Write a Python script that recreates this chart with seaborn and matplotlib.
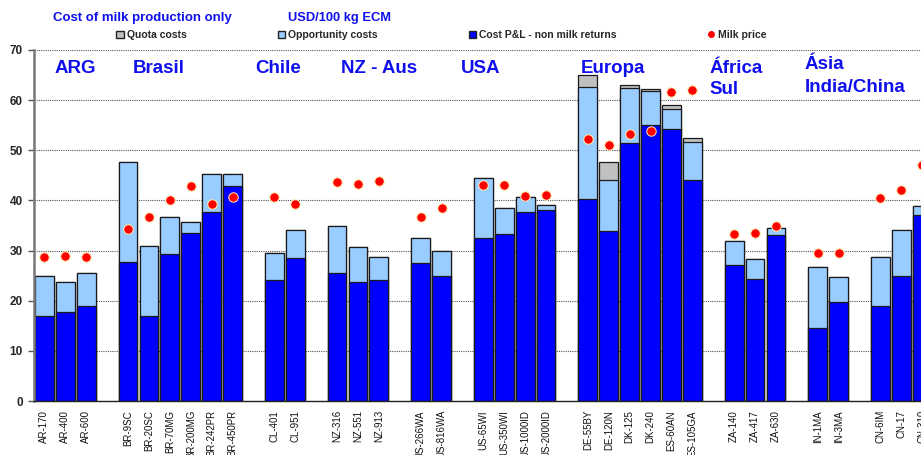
import numpy as np
import pandas as pd
import matplotlib
matplotlib.use("Agg")
import matplotlib.pyplot as plt
import seaborn as sns
from matplotlib.patches import Patch
from matplotlib.lines import Line2D

# Cost of milk production per farm (USD/100 kg ECM)
farms = ['AR-170', 'AR-400', 'AR-600',
         'BR-9SC', 'BR-20SC', 'BR-70MG', 'BR-200MG', 'BR-242PR', 'BR-450PR',
         'CL-401', 'CL-951',
         'NZ-316', 'NZ-551', 'NZ-913',
         'US-266WA', 'US-816WA',
         'US-65WI', 'US-350WI', 'US-1000ID', 'US-2000ID',
         'DE-55BY', 'DE-120N', 'DK-125', 'DK-240', 'ES-60AN', 'ES-105GA',
         'ZA-140', 'ZA-417', 'ZA-630',
         'IN-1MA', 'IN-3MA',
         'CN-6IM', 'CN-17', 'CN-310']
cost_pl = [17.0, 17.7, 18.9,
           27.8, 17.0, 29.4, 33.6, 37.7, 42.9,
           24.2, 28.6,
           25.6, 23.7, 24.1,
           27.5, 24.9,
           32.5, 33.3, 37.7, 38.1,
           40.2, 33.9, 51.5, 55.0, 54.2, 44.1,
           27.2, 24.4, 33.2,
           14.6, 19.7,
           19.0, 25.0, 37.1]
opportunity = [7.9, 6.0, 6.6,
               19.9, 14.0, 7.3, 2.1, 7.6, 2.4,
               5.3, 5.6,
               9.3, 7.1, 4.6,
               5.1, 5.1,
               12.0, 5.2, 3.0, 0.9,
               22.5, 10.1, 11.0, 6.9, 4.0, 7.6,
               4.7, 3.9, 1.4,
               12.1, 5.0,
               9.7, 9.1, 1.8]
quota = [0, 0, 0,
         0, 0, 0, 0, 0, 0,
         0, 0,
         0, 0, 0,
         0, 0,
         0, 0, 0, 0,
         2.3, 3.7, 0.6, 0.4, 0.9, 0.8,
         0, 0, 0,
         0, 0,
         0, 0, 0]
milk_price = [28.7, 29.0, 28.8,
              34.3, 36.6, 40.0, 42.9, 39.3, 40.7,
              40.7, 39.3,
              43.7, 43.3, 43.9,
              36.7, 38.5,
              43.1, 43.1, 40.9, 41.1,
              52.2, 51.0, 53.3, 53.9, 61.7, 62.0,
              33.3, 33.5, 35.0,
              29.5, 29.5,
              40.4, 42.1, 47.0]

# an empty slot follows the last farm of each group
gap_after = ['AR-600', 'BR-450PR', 'CL-951', 'NZ-913', 'US-816WA',
             'US-2000ID', 'ES-105GA', 'ZA-630', 'IN-3MA']

# region names: (text, x in slots, baseline y)
regions = [('ARG', 0.46, 65.4), ('Brasil', 4.24, 65.4), ('Chile', 10.07, 65.4),
           ('NZ - Aus', 14.19, 65.4), ('USA', 19.93, 65.4), ('Europa', 25.67, 65.4),
           ('África', 31.80, 65.4), ('Sul', 31.80, 61.2),
           ('Ásia', 36.39, 66.2), ('India/China', 36.39, 61.6)]

order = []
for f in farms:
    order.append(f)
    if f in gap_after:
        order.append(f'_gap{len(order)}')

df = pd.DataFrame({'Farm': farms, 'PL': cost_pl, 'Opp': opportunity,
                   'Quota': quota, 'Milk': milk_price})
df['PL_Opp'] = df['PL'] + df['Opp']
df['Total'] = df['PL_Opp'] + df['Quota']

sns.set_style('white')
plt.rcParams['font.family'] = ['Liberation Sans', 'DejaVu Sans']

W, H = 921, 455
fig = plt.figure(figsize=(W / 100, H / 100), dpi=100)
slot = 20.9
ax = fig.add_axes([34 / W, 54 / H, len(order) * slot / W, 351 / H])

blue = '#0000ff'
light = '#99ccff'
grey = '#c0c0c0'
for col, c in [('Total', grey), ('PL_Opp', light), ('PL', blue)]:
    sns.barplot(data=df, x='Farm', y=col, order=order, color=c, saturation=1,
                width=0.9, edgecolor='#1a1a1a', linewidth=0.9, ax=ax)

sns.stripplot(data=df, x='Farm', y='Milk', order=order, color='#ff0000',
              size=6.8, jitter=False, edgecolor='#fff0b0', linewidth=0.7,
              ax=ax, zorder=5)

ax.set_xlim(-0.5, len(order) - 0.5)
ax.set_ylim(0, 70)
ax.set_yticks(range(0, 71, 10))
ax.set_yticklabels([str(v) for v in range(0, 71, 10)], fontsize=8.5, fontweight='bold')
ax.yaxis.grid(True, linestyle=(0, (1, 1)), color='#555555', linewidth=0.8)
ax.set_axisbelow(True)

labels = ['' if o.startswith('_gap') else o for o in order]
ax.set_xticks(range(len(order)))
ax.set_xticklabels(labels, rotation=90, fontsize=7, color='#111111')
ax.set_xticks(np.arange(-0.5, len(order)), minor=True)
ax.tick_params(axis='x', which='major', length=0, pad=6.5)
ax.tick_params(axis='x', which='minor', length=4, color='#333333', width=0.8)
ax.tick_params(axis='y', length=4, color='#555555', width=1, pad=4, left=True)
ax.set_xlabel('')
ax.set_ylabel('')

for s in ['top', 'right']:
    ax.spines[s].set_visible(False)
ax.spines['left'].set_color('#777777')
ax.spines['left'].set_linewidth(1.8)
ax.spines['bottom'].set_color('#222222')
ax.spines['bottom'].set_linewidth(1.0)

text_blue = '#1010ee'
for name, x, y in regions:
    ax.text(x, y, name, color=text_blue, fontsize=13.5, fontweight='bold',
            ha='left', va='baseline', zorder=6)

fig.text(53 / W, 1 - 21 / H, 'Cost of milk production only', color=text_blue,
         fontsize=9.5, fontweight='bold', ha='left', va='baseline')
fig.text(288 / W, 1 - 21 / H, 'USD/100 kg ECM', color=text_blue,
         fontsize=9.3, fontweight='bold', ha='left', va='baseline')

handles = [Patch(facecolor=grey, edgecolor='#222222', label='Quota costs'),
           Patch(facecolor=light, edgecolor='#222222', label='Opportunity costs'),
           Patch(facecolor=blue, edgecolor='#222222', label='Cost P&L - non milk returns'),
           Line2D([], [], marker='o', linestyle='none', color='#ff0000',
                  markersize=4, label='Milk price')]
fig.legend(handles=handles, loc='center left', bbox_to_anchor=(111 / W, 1 - 35 / H),
           ncol=4, frameon=False, borderpad=0, handlelength=0.7, handleheight=0.7,
           handletextpad=0.3, columnspacing=8.75,
           prop={'size': 7.5, 'weight': 'bold'})

fig.savefig('out.png', dpi=100)
